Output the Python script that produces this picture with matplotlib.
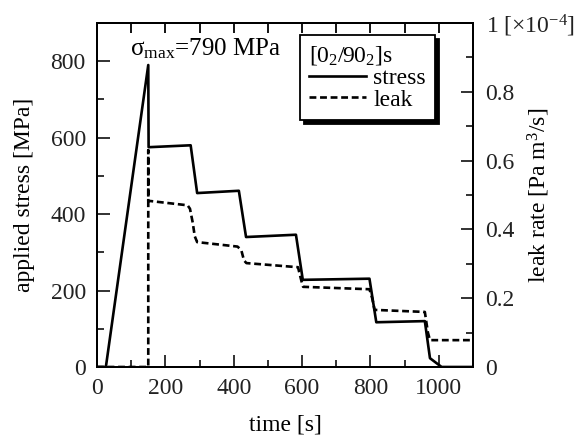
import numpy as np
import matplotlib.pyplot as plt
from matplotlib.ticker import MultipleLocator, FixedLocator

plt.rcParams['font.family'] = ['Liberation Serif', 'DejaVu Serif']
plt.rcParams['mathtext.fontset'] = 'custom'
plt.rcParams['mathtext.rm'] = 'Liberation Serif'
plt.rcParams['mathtext.it'] = 'Liberation Serif:italic'
plt.rcParams['font.size'] = 17

# stress history [MPa]
t_stress = [0, 26, 150, 151, 274, 293, 415, 436, 582, 602, 797, 817, 959, 974, 1008, 1100]
stress = [0, 0, 790, 575, 580, 455, 461, 340, 346, 228, 231, 117, 120, 23, 0, 0]

# leak rate [x1e-4 Pa m3/s]
t_leak = [0, 150, 150, 150, 160, 265, 272, 280, 286, 293, 411, 422, 430, 437,
          588, 598, 603, 797, 805, 812, 959, 968, 974, 1100]
leak = [0, 0, 0.63, 0.483, 0.482, 0.47, 0.46, 0.42, 0.38, 0.363, 0.35, 0.34, 0.31, 0.302,
        0.29, 0.25, 0.233, 0.226, 0.2, 0.166, 0.16, 0.1, 0.078, 0.078]

sigma_max = 790
leak_ticks = [0, 0.2, 0.4, 0.6, 0.8, 1.0]
leak_ticklabels = ['0', '0.2', '0.4', '0.6', '0.8', r'1 [$\times$10$^{-4}$]']

fig = plt.figure(figsize=(5.79, 4.36), dpi=100)
ax = fig.add_axes([0.1675, 0.1583, 0.6495, 0.789])
ax2 = ax.twinx()

ln1, = ax.plot(t_stress, stress, color='k', lw=1.9, label='stress')
ln2, = ax2.plot(t_leak, leak, color='k', lw=1.9, ls=(0, (2.6, 1.4)), label='leak')

ax.set_xlim(0, 1100)
ax.set_ylim(0, 900)
ax2.set_ylim(0, 1)

ax.xaxis.set_major_locator(FixedLocator([0, 200, 400, 600, 800, 1000]))
ax.xaxis.set_minor_locator(MultipleLocator(100))
ax.yaxis.set_major_locator(FixedLocator([0, 200, 400, 600, 800]))
ax.yaxis.set_minor_locator(MultipleLocator(100))
ax2.set_yticks(leak_ticks)
ax2.set_yticklabels(leak_ticklabels)
ax2.yaxis.set_minor_locator(MultipleLocator(0.1))

ax.tick_params(which='both', direction='in', width=1.3, pad=8, colors='#222222')
ax.tick_params(which='major', length=9)
ax.tick_params(which='minor', length=5)
ax2.tick_params(which='both', direction='in', width=1.3, pad=9, colors='#222222')
ax2.tick_params(which='major', length=9)
ax2.tick_params(which='minor', length=5)

# ticks along the top edge, every 100 s
top = ax.secondary_xaxis('top')
top.set_xticks(np.arange(100, 1100, 100))
top.set_xticklabels([])
top.tick_params(direction='in', length=7, width=1.3)

for a in (ax, ax2):
    for s in a.spines.values():
        s.set_linewidth(1.4)
top.spines['top'].set_linewidth(1.4)

ax.set_xlabel('time [s]', labelpad=11)
ax.set_ylabel('applied stress [MPa]', labelpad=11)
ax2.set_ylabel(r'leak rate [Pa m$^3$/s]', rotation=90, va='center')
ax2.yaxis.set_label_coords(1.175, 0.5)

ax.text(318, 832, '\u03c3$_{\\rm max}$=%d MPa' % sigma_max, ha='center', va='center',
        fontsize=18)

leg = ax.legend(handles=[ln1, ln2], title='[0$_2$/90$_2$]s', loc='upper left',
                bbox_to_anchor=(0.54, 0.965), frameon=True, fancybox=False,
                shadow={'ox': 3, 'oy': -3, 'color': 'k', 'alpha': 1},
                handlelength=2.4, handletextpad=0.3, labelspacing=0.0,
                borderpad=0.4, borderaxespad=0, alignment='left', fontsize=17,
                title_fontsize=17)
leg.get_frame().set_edgecolor('k')
leg.get_frame().set_linewidth(1.3)

fig.savefig('out.png', dpi=100)
